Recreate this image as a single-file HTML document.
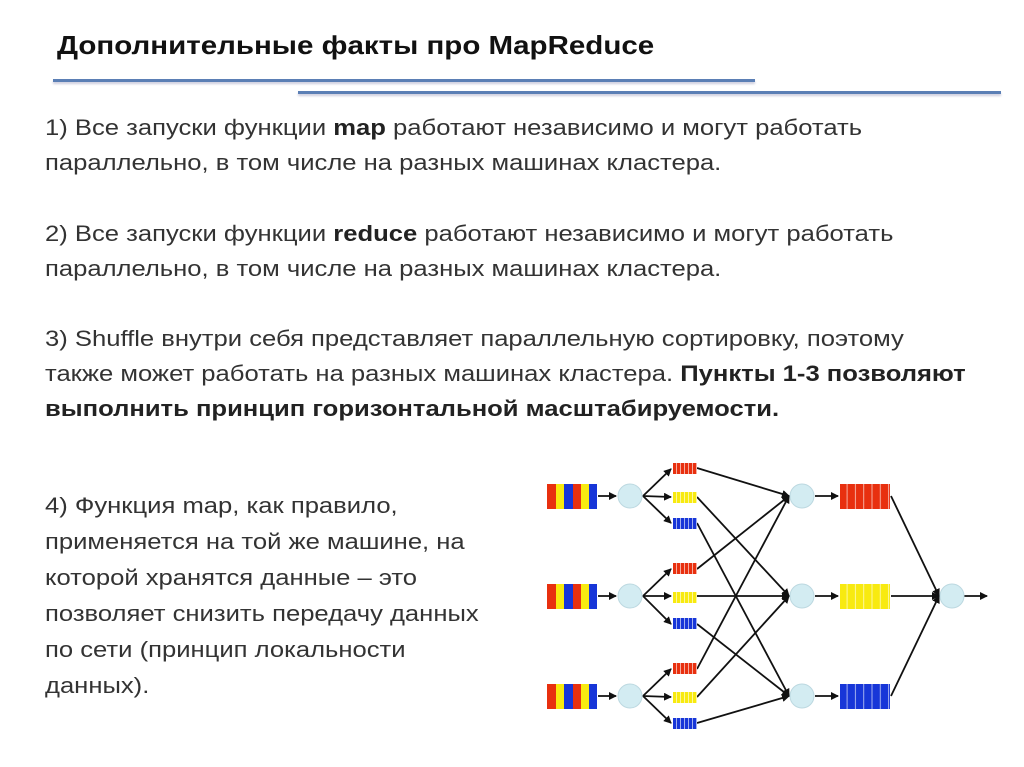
<!DOCTYPE html>
<html><head><meta charset="utf-8"><style>
body{margin:0;width:1024px;height:767px;background:#fff;position:relative;overflow:hidden;font-family:"Liberation Sans",Arial,sans-serif;color:#333}
.t{position:absolute;white-space:nowrap;font-size:22px;left:45px;transform:scaleX(1.164);transform-origin:0 0}
h1{position:absolute;left:57px;top:30px;margin:0;font-size:26px;font-weight:bold;color:#111;font-family:"Liberation Sans",sans-serif;transform:scaleX(1.135);transform-origin:0 0;white-space:nowrap}
.ln{position:absolute;height:3px;background:#5b7fb5;box-shadow:0 2px 2px #ccd}
b{color:#222}
</style></head><body>
<h1>Дополнительные факты про MapReduce</h1>
<div class="ln" style="left:53px;width:702px;top:79px"></div>
<div class="ln" style="left:298px;width:703px;top:91px"></div>
<div class="t" style="top:115px">1) Все запуски функции <b>map</b> работают независимо и могут работать</div>
<div class="t" style="top:150px">параллельно, в том числе на разных машинах кластера.</div>
<div class="t" style="top:221px">2) Все запуски функции <b>reduce</b> работают независимо и могут работать</div>
<div class="t" style="top:256px">параллельно, в том числе на разных машинах кластера.</div>
<div class="t" style="top:326px">3) Shuffle внутри себя представляет параллельную сортировку, поэтому</div>
<div class="t" style="top:361px">также может работать на разных машинах кластера. <b>Пункты 1-3 позволяют</b></div>
<div class="t" style="top:396px"><b>выполнить принцип горизонтальной масштабируемости.</b></div>
<div class="t" style="top:493px">4) Функция map, как правило,</div>
<div class="t" style="top:529px">применяется на той же машине, на</div>
<div class="t" style="top:565px">которой хранятся данные – это</div>
<div class="t" style="top:601px">позволяет снизить передачу данных</div>
<div class="t" style="top:637px">по сети (принцип локальности</div>
<div class="t" style="top:673px">данных).</div>
<svg style="position:absolute;left:0;top:0" width="1024" height="767">
<defs>
<marker id="a" markerWidth="8" markerHeight="8" refX="7" refY="4" orient="auto" markerUnits="userSpaceOnUse"><path d="M0,0L8,4L0,8z" fill="#111"/></marker>
<pattern id="st" width="4" height="10" patternUnits="userSpaceOnUse"><rect x="0" y="0" width="1" height="10" fill="#fff" opacity=".6"/></pattern>
<pattern id="sb" width="8.3" height="25" patternUnits="userSpaceOnUse"><rect x="0" y="0" width="1" height="25" fill="#fff" opacity=".6"/></pattern>
</defs>
<g stroke="#111" stroke-width="1.8" fill="none" marker-end="url(#a)">
<line x1="598" y1="496" x2="616" y2="496"/><line x1="598" y1="596" x2="616" y2="596"/><line x1="598" y1="696" x2="616" y2="696"/>
<line x1="643" y1="496" x2="671" y2="469"/><line x1="643" y1="496" x2="671" y2="497"/><line x1="643" y1="496" x2="671" y2="523"/>
<line x1="643" y1="596" x2="671" y2="569"/><line x1="643" y1="596" x2="671" y2="596"/><line x1="643" y1="596" x2="671" y2="624"/>
<line x1="643" y1="696" x2="671" y2="669"/><line x1="643" y1="696" x2="671" y2="697"/><line x1="643" y1="696" x2="671" y2="723"/>
<line x1="697" y1="468" x2="789" y2="496"/><line x1="697" y1="569" x2="789" y2="496"/><line x1="697" y1="669" x2="789" y2="496"/>
<line x1="697" y1="497" x2="789" y2="596"/><line x1="697" y1="596" x2="789" y2="596"/><line x1="697" y1="697" x2="789" y2="596"/>
<line x1="697" y1="523" x2="789" y2="696"/><line x1="697" y1="624" x2="789" y2="696"/><line x1="697" y1="723" x2="789" y2="696"/>
<line x1="815" y1="496" x2="838" y2="496"/><line x1="815" y1="596" x2="838" y2="596"/><line x1="815" y1="696" x2="838" y2="696"/>
<line x1="891" y1="496" x2="939" y2="596"/><line x1="891" y1="596" x2="939" y2="596"/><line x1="891" y1="696" x2="939" y2="596"/>
<line x1="964" y1="596" x2="987" y2="596"/>
</g>
<g id="in">
<rect x="547" y="484" width="9" height="25" fill="#e8300f"/><rect x="556" y="484" width="8" height="25" fill="#f8ea10"/><rect x="564" y="484" width="9" height="25" fill="#1736d8"/><rect x="573" y="484" width="8" height="25" fill="#e8300f"/><rect x="581" y="484" width="8" height="25" fill="#f8ea10"/><rect x="589" y="484" width="8" height="25" fill="#1736d8"/>
</g>
<use href="#in" y="100"/><use href="#in" y="200"/>
<g fill="#d3ecf2" stroke="#bcd8e0">
<circle cx="630" cy="496" r="12"/><circle cx="630" cy="596" r="12"/><circle cx="630" cy="696" r="12"/>
<circle cx="802" cy="496" r="12"/><circle cx="802" cy="596" r="12"/><circle cx="802" cy="696" r="12"/>
<circle cx="952" cy="596" r="12"/>
</g>
<g id="sq">
<rect x="673" y="463" width="24" height="11" fill="#e8300f"/><rect x="673" y="463" width="24" height="11" fill="url(#st)"/>
<rect x="673" y="492" width="24" height="11" fill="#f8ea10"/><rect x="673" y="492" width="24" height="11" fill="url(#st)"/>
<rect x="673" y="518" width="24" height="11" fill="#1736d8"/><rect x="673" y="518" width="24" height="11" fill="url(#st)"/>
</g>
<use href="#sq" y="100"/><use href="#sq" y="200"/>
<rect x="840" y="484" width="50" height="25" fill="#e8300f"/><rect x="840" y="484" width="50" height="25" fill="url(#sb)"/>
<rect x="840" y="584" width="50" height="25" fill="#f8ea10"/><rect x="840" y="584" width="50" height="25" fill="url(#sb)"/>
<rect x="840" y="684" width="50" height="25" fill="#1736d8"/><rect x="840" y="684" width="50" height="25" fill="url(#sb)"/>
</svg>
</body></html>
